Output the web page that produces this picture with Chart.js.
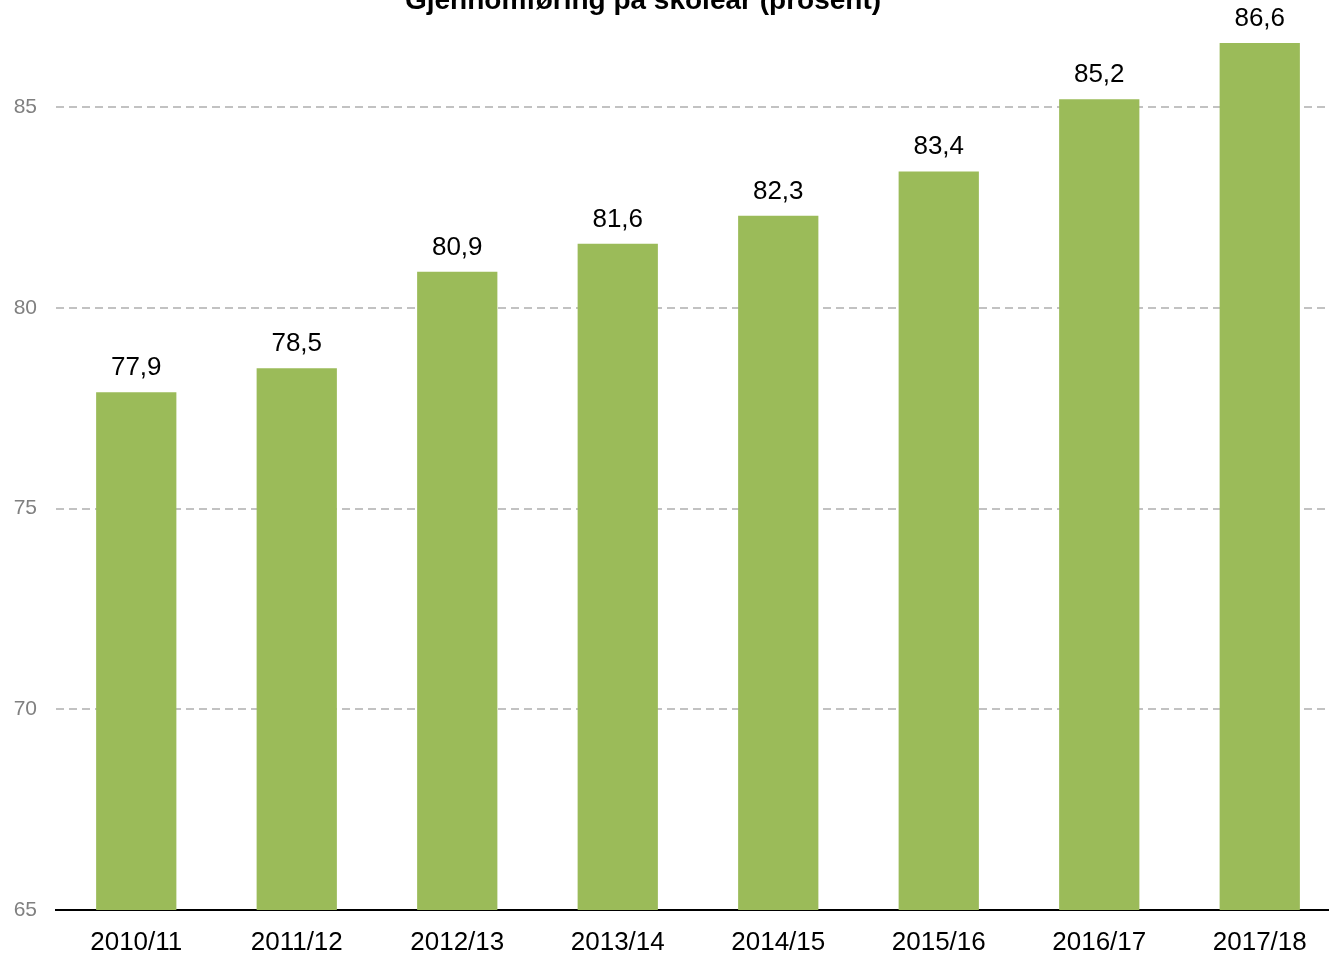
<!DOCTYPE html>
<html>
<head>
<meta charset="utf-8">
<script src="https://cdn.jsdelivr.net/npm/chart.js@4"></script>
<style>
  html, body { margin: 0; padding: 0; background: #fff; overflow: hidden; }
  #wrap { width: 1329px; height: 956px; overflow: hidden; position: relative; }
  #wrap canvas { position: absolute; left: 0; top: 0; }
</style>
</head>
<body>
<div id="wrap"><canvas id="gjChart" width="1346" height="956"></canvas></div>
<script>
// ====== Data ======
const skoleaar = ['2010/11', '2011/12', '2012/13', '2013/14', '2014/15', '2015/16', '2016/17', '2017/18'];
const prosent = [77.9, 78.5, 80.9, 81.6, 82.3, 83.4, 85.2, 86.6];
const yTicks = [65, 70, 75, 80, 85];
const tittel = 'Gjennomføring på skoleår (prosent)';

// title sits partly above the top edge, as in the cropped original
const titlePlugin = {
  id: 'cutTitle',
  afterDraw(chart) {
    const c = chart.ctx;
    c.save();
    c.font = 'bold 28px "Liberation Sans", Arial, sans-serif';
    c.fillStyle = '#000';
    c.textAlign = 'center';
    c.textBaseline = 'alphabetic';
    c.fillText(tittel, 643, 9);
    c.restore();
  }
};

// value labels above each bar, with comma decimals
const valueLabels = {
  id: 'valueLabels',
  afterDatasetsDraw(chart) {
    const c = chart.ctx;
    const meta = chart.getDatasetMeta(0);
    c.save();
    c.font = '26px "Liberation Sans", Arial, sans-serif';
    c.fillStyle = '#000';
    c.textAlign = 'center';
    c.textBaseline = 'alphabetic';
    meta.data.forEach((bar, i) => {
      c.fillText(prosent[i].toFixed(1).replace('.', ','), bar.x, bar.y - 17);
    });
    c.restore();
  }
};

const ctx = document.getElementById('gjChart').getContext('2d');
const gjChart = new Chart(ctx, {
  type: 'bar',
  data: {
    labels: skoleaar,
    datasets: [{
      data: prosent,
      backgroundColor: '#9bbb59',
      barPercentage: 0.5,
      categoryPercentage: 1
    }]
  },
  options: {
    responsive: false,
    animation: false,
    layout: { padding: { top: 27, right: 6, left: 0, bottom: 0 } },
    plugins: {
      legend: { display: false },
      title: { display: false },
      tooltip: { enabled: false }
    },
    scales: {
      x: {
        grid: { display: false, drawTicks: false },
        border: { display: true, color: '#000', width: 2 },
        ticks: {
          color: '#000',
          font: { family: '"Liberation Sans", Arial, sans-serif', size: 26 },
          padding: 17,
          maxRotation: 0,
          autoSkip: false
        },
        afterFit(scale) {
          scale.height = 46;
          scale.paddingLeft = 0;
          scale.paddingRight = 0;
        }
      },
      y: {
        min: 65,
        max: 87,
        afterBuildTicks(scale) {
          scale.ticks = yTicks.map(v => ({ value: v }));
        },
        grid: {
          color: (c) => c.tick && c.tick.value === 65 ? 'rgba(0,0,0,0)' : '#c2c2c2',
          lineWidth: 2,
          drawTicks: false
        },
        border: { display: false, dash: [8, 5] },
        ticks: {
          color: '#808080',
          font: { family: '"Liberation Sans", Arial, sans-serif', size: 21 },
          padding: 19
        },
        afterFit(scale) {
          scale.width = 56;
          scale.paddingTop = 0;
          scale.paddingBottom = 0;
        }
      }
    }
  },
  plugins: [titlePlugin, valueLabels]
});
</script>
</body>
</html>
